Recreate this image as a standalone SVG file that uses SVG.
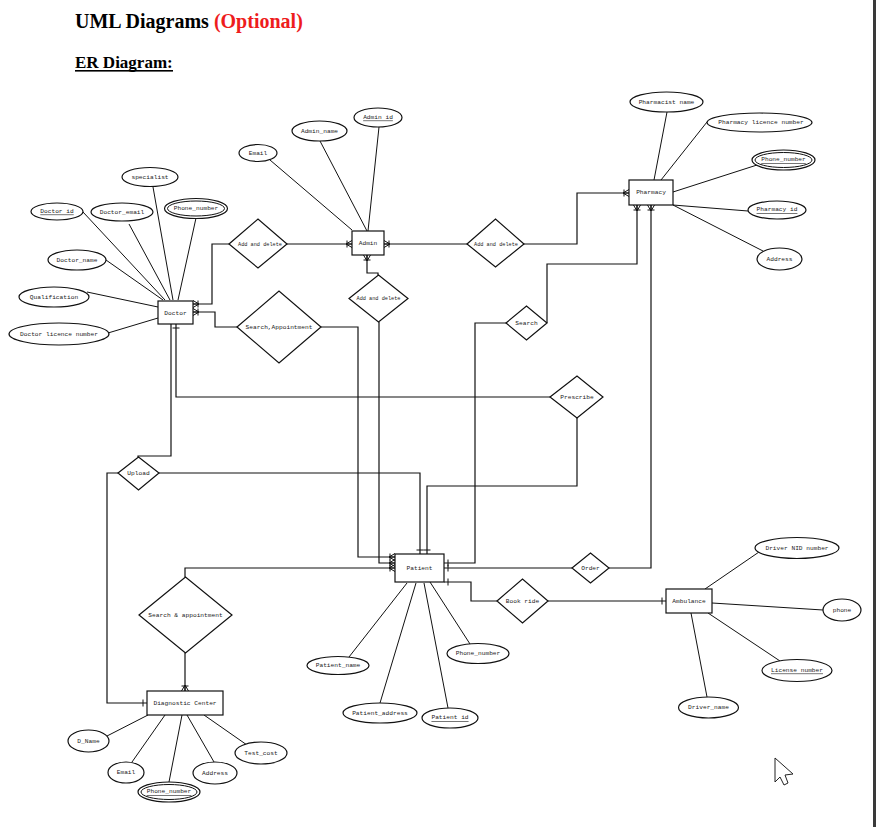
<svg xmlns="http://www.w3.org/2000/svg" width="876" height="827" viewBox="0 0 876 827">
<style>
.h{font-family:"Liberation Serif","Times New Roman",serif;font-weight:bold}
.t{font-family:"Liberation Mono","Courier New",monospace;font-size:6.2px;fill:#222;text-anchor:middle;dominant-baseline:central}
.k{text-decoration:underline}
.sh{fill:#fff;stroke:#111;stroke-width:1.2}
.a{stroke:#111;stroke-width:1;fill:none}
.c{stroke:#111;stroke-width:1.2;fill:none}
.m{marker-end:url(#many)}
.o{marker-end:url(#one)}
</style>
<defs>
<marker id="many" markerUnits="userSpaceOnUse" markerWidth="14" markerHeight="14" refX="7" refY="7" orient="auto" viewBox="0 0 14 14">
<path d="M1,7 L7,3.5 M1,7 L7,10.5 M1,7 L7,7 M2,3.5 L2,10.5" stroke="#111" stroke-width="1" fill="none"/>
</marker>
<marker id="one" markerUnits="userSpaceOnUse" markerWidth="14" markerHeight="14" refX="7" refY="7" orient="auto" viewBox="0 0 14 14">
<path d="M3,3.5 L3,10.5" stroke="#111" stroke-width="1" fill="none"/>
</marker>
</defs>
<rect width="876" height="827" fill="#fff"/>
<rect x="873" y="0" width="3" height="827" fill="#3a3a3a"/>

<text class="h" x="75" y="28" font-size="20">UML Diagrams <tspan fill="#ee1c1c">(Optional)</tspan></text>
<text class="h" x="75" y="68" font-size="17">ER Diagram:</text>
<rect x="75" y="70" width="98" height="1.6" fill="#000"/>

<g id="connectors">
<path class="a" d="M83,212 L165,300 M129,224 L170,300 M153,187 L173,300 M196,218 L178,300 M106,260 L163,300 M87,292 L158,307 M108,333 L158,318"/>
<path class="a" d="M379,127 L368,231 M320,141 L367,231 M270,160 L352,230"/>
<path class="a" d="M667,112 L654,180 M707,122 L661,180 M757,165 L673,192 M673,205 L748,211 M673,205 L763,251"/>
<path class="a" d="M705,589 L759,552 M712,603 L823,610 M708,613 L780,661 M691,613 L707,697"/>
<path class="a" d="M407,583 L349,657 M416,583 L380,703 M424,583 L448,708 M430,582 L470,644"/>
<path class="a" d="M107,736 L148,715 M132,762 L165,715 M169,782 L182,715 M214,762 L187,715 M247,745 L204,715"/>
<polyline class="c m" points="230,244 212,244 212,304 193,304"/>
<polyline class="c m" points="237,327 215,327 215,312 193,312"/>
<polyline class="c m" points="321,327 358,327 358,557 395,557"/>
<polyline class="c m" points="287,244 352,244"/>
<polyline class="c m" points="467,244 384,244"/>
<polyline class="c m" points="378,275 378,273 367,273 367,255"/>
<polyline class="c m" points="379,322 379,563 395,563"/>
<polyline class="c m" points="524,244 577,244 577,193 629,193"/>
<polyline class="c m" points="547,323 547,264 637,264 637,205"/>
<polyline class="c o" points="506,323 475,323 475,563 444,563"/>
<polyline class="c m" points="609,568 651,568 651,205"/>
<polyline class="c o" points="572,568 444,568"/>
<polyline class="c o" points="497,601 471,601 471,582 444,582"/>
<polyline class="c o" points="548,601 666,601"/>
<polyline class="c o" points="550,397 176,397 176,324"/>
<polyline class="c o" points="577,418 577,486 427,486 427,554"/>
<polyline class="c" points="138,457 138,456 171,456 171,324"/>
<polyline class="c o" points="159,473 420,473 420,554"/>
<polyline class="c o" points="118,473 107,473 107,703 147,703"/>
<polyline class="c m" points="185,577 185,568 395,568"/>
<polyline class="c m" points="185,653 185,691"/>
</g>

<g id="doctor"><rect class="sh" x="158" y="301" width="35" height="23"/><text class="t" x="175.5" y="313">Doctor</text></g>
<g id="doctor-specialist"><ellipse class="sh" cx="150" cy="177" rx="28" ry="9.5"/><text class="t" x="150" y="177">specialist</text></g>
<g id="doctor-id"><ellipse class="sh" cx="57" cy="211.5" rx="26" ry="8.5"/><text class="t k" x="57" y="211">Doctor id</text></g>
<g id="doctor-email"><ellipse class="sh" cx="122" cy="212" rx="31" ry="9"/><text class="t" x="122" y="212">Doctor_email</text></g>
<g id="doctor-phone"><ellipse class="sh" cx="196" cy="208.5" rx="31.5" ry="10"/><ellipse class="a" cx="196" cy="208.5" rx="28.5" ry="7.5"/><text class="t" x="196" y="208">Phone_number</text></g>
<g id="doctor-name"><ellipse class="sh" cx="77" cy="260" rx="29" ry="10"/><text class="t" x="77" y="260">Doctor_name</text></g>
<g id="doctor-qualification"><ellipse class="sh" cx="54" cy="297" rx="35" ry="10"/><text class="t" x="54" y="297">Qualification</text></g>
<g id="doctor-licence"><ellipse class="sh" cx="59" cy="334" rx="50" ry="11"/><text class="t" x="59" y="334">Doctor licence number</text></g>

<g id="admin"><rect class="sh" x="352" y="231" width="32" height="24"/><text class="t" x="368" y="243" font-size="7">Admin</text></g>
<g id="admin-id"><ellipse class="sh" cx="378" cy="117.5" rx="24" ry="9.5"/><text class="t k" x="378" y="117">Admin id</text></g>
<g id="admin-name"><ellipse class="sh" cx="319.5" cy="131" rx="27.5" ry="10"/><text class="t" x="319.5" y="131">Admin_name</text></g>
<g id="admin-email"><ellipse class="sh" cx="258" cy="153" rx="19" ry="8.5"/><text class="t" x="258" y="153">Email</text></g>
<g id="rel-add-delete-doctor"><polygon class="sh" points="229,244 258,219 287,244 258,268"/><text class="t" x="260" y="244" textLength="44" lengthAdjust="spacingAndGlyphs">Add and delete</text></g>
<g id="rel-add-delete-pharmacy"><polygon class="sh" points="467,244 495.5,219 524,244 495.5,267"/><text class="t" x="496" y="244" textLength="44" lengthAdjust="spacingAndGlyphs">Add and delete</text></g>
<g id="rel-add-delete-patient"><polygon class="sh" points="349,298.5 378.5,275 408,298.5 378.5,322"/><text class="t" x="378.5" y="298.5" textLength="44" lengthAdjust="spacingAndGlyphs">Add and delete</text></g>
<g id="rel-search-appointment"><polygon class="sh" points="237,327 279,291 321,327 279,363"/><text class="t" x="279" y="327">Search,Appointment</text></g>
<g id="rel-search"><polygon class="sh" points="506,323 526.5,306 547,323 526.5,340"/><text class="t" x="526.5" y="323">Search</text></g>
<g id="rel-prescribe"><polygon class="sh" points="550,397 577,376 603,397 577,418"/><text class="t" x="577" y="397">Prescribe</text></g>
<g id="rel-upload"><polygon class="sh" points="118,473 138.5,457 159,473 138.5,490"/><text class="t" x="138.5" y="473">Upload</text></g>
<g id="rel-order"><polygon class="sh" points="572,568 590.5,553 609,568 590.5,583"/><text class="t" x="590.5" y="568">Order</text></g>
<g id="rel-book-ride"><polygon class="sh" points="497,601 522.5,579 548,601 522.5,623"/><text class="t" x="522.5" y="601">Book ride</text></g>
<g id="rel-search-appointment-dc"><polygon class="sh" points="139,615 185.5,577 232,615 185.5,653"/><text class="t" x="185.5" y="615">Search &amp; appointment</text></g>

<g id="pharmacy"><rect class="sh" x="629" y="180" width="44" height="25"/><text class="t" x="651" y="192.5">Pharmacy</text></g>
<g id="pharmacist-name"><ellipse class="sh" cx="666.5" cy="102" rx="36.5" ry="10"/><text class="t" x="666.5" y="102">Pharmacist name</text></g>
<g id="pharmacy-licence"><ellipse class="sh" cx="759.5" cy="122.5" rx="52.5" ry="9.5"/><text class="t" x="761" y="122.5" font-size="6.6">Pharmacy licence number</text></g>
<g id="pharmacy-phone"><ellipse class="sh" cx="783.5" cy="160" rx="31.5" ry="10"/><ellipse class="a" cx="783.5" cy="160" rx="28.5" ry="7.5"/><text class="t k" x="783.5" y="159.5">Phone_number</text></g>
<g id="pharmacy-id"><ellipse class="sh" cx="777" cy="210" rx="29" ry="9"/><text class="t k" x="777" y="209.5">Pharmacy id</text></g>
<g id="pharmacy-address"><ellipse class="sh" cx="779.5" cy="259" rx="22.5" ry="11"/><text class="t" x="779.5" y="259">Address</text></g>

<g id="patient"><rect class="sh" x="395" y="554" width="49" height="28"/><text class="t" x="419.5" y="568" font-size="8.6">Patient</text></g>
<g id="patient-name"><ellipse class="sh" cx="338" cy="665.5" rx="31" ry="9"/><text class="t" x="338" y="665.5">Patient_name</text></g>
<g id="patient-address"><ellipse class="sh" cx="380" cy="713" rx="37" ry="10"/><text class="t" x="380" y="713">Patient_address</text></g>
<g id="patient-id"><ellipse class="sh" cx="450" cy="718" rx="28" ry="10"/><text class="t k" x="450" y="717.5">Patient id</text></g>
<g id="patient-phone"><ellipse class="sh" cx="478" cy="653.5" rx="31" ry="10"/><text class="t" x="478" y="653.5">Phone_number</text></g>

<g id="ambulance"><rect class="sh" x="666" y="589" width="46" height="24"/><text class="t" x="689" y="601">Ambulance</text></g>
<g id="driver-nid"><ellipse class="sh" cx="797" cy="548" rx="42" ry="10.5"/><text class="t" x="797" y="548">Driver NID number</text></g>
<g id="ambulance-phone"><ellipse class="sh" cx="842" cy="610" rx="19" ry="11"/><text class="t" x="842" y="610">phone</text></g>
<g id="license-number"><ellipse class="sh" cx="797" cy="670.5" rx="35" ry="11"/><text class="t k" x="797" y="670">License number</text></g>
<g id="driver-name"><ellipse class="sh" cx="708.5" cy="707.5" rx="30" ry="10.5"/><text class="t" x="708.5" y="707.5">Driver_name</text></g>

<g id="diagnostic-center"><rect class="sh" x="147" y="691" width="76" height="24"/><text class="t" x="185" y="703">Diagnostic Center</text></g>
<g id="dc-name"><ellipse class="sh" cx="88.5" cy="741" rx="20.5" ry="11"/><text class="t" x="88.5" y="741">D_Name</text></g>
<g id="dc-email"><ellipse class="sh" cx="126" cy="772.5" rx="18" ry="10.5"/><text class="t" x="126" y="772.5">Email</text></g>
<g id="dc-phone"><ellipse class="sh" cx="169" cy="792" rx="31" ry="10"/><ellipse class="a" cx="169" cy="792" rx="28" ry="7.5"/><text class="t k" x="169" y="791.5">Phone_number</text></g>
<g id="dc-address"><ellipse class="sh" cx="215" cy="773" rx="22" ry="11"/><text class="t" x="215" y="773">Address</text></g>
<g id="dc-test-cost"><ellipse class="sh" cx="261" cy="753" rx="26" ry="11"/><text class="t" x="261" y="753">Test_cost</text></g>

<polygon points="775,758 775,782 780,777 784,785 788,783 785,775 793,774" fill="#fff" stroke="#222" stroke-width="1"/>
</svg>
